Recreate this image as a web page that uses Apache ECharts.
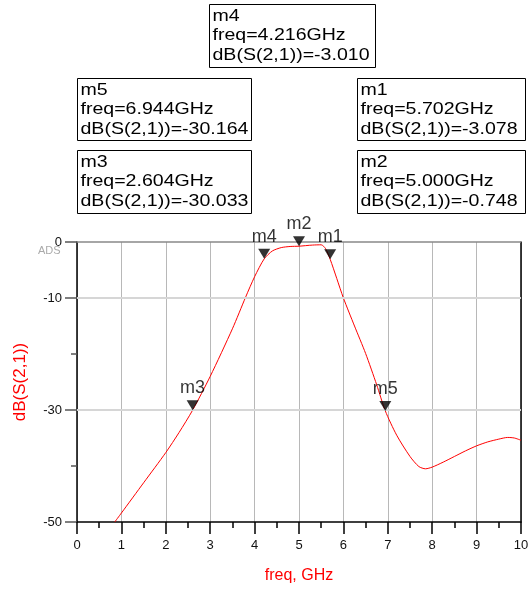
<!DOCTYPE html>
<html><head><meta charset="utf-8">
<script src="https://cdn.jsdelivr.net/npm/echarts@6/dist/echarts.min.js"></script>
<style>html,body{margin:0;padding:0;background:#fff}#c{width:528px;height:590px}</style>
</head><body><div id="c"></div>
<script>
// ---- data ----
const freqGHz = [0.85, 1.0, 1.5, 2.0, 2.3, 2.604, 3.0, 3.5, 3.8, 4.0, 4.216, 4.4, 4.6, 4.8, 5.0, 5.3, 5.5, 5.6, 5.702, 5.85, 6.0, 6.25, 6.5, 6.75, 6.944, 7.2, 7.5, 7.7, 7.85, 8.0, 8.25, 8.5, 8.75, 9.0, 9.25, 9.5, 9.7, 9.85, 10.0];
const dbS21 = [-50, -48.4, -43.0, -37.6, -34.0, -30.033, -24.0, -15.5, -9.8, -6.2, -3.010, -1.6, -1.0, -0.8, -0.748, -0.55, -0.5, -1.2, -3.078, -6.5, -10, -15, -19.9, -25.5, -30.164, -34.5, -38.3, -40.1, -40.5, -40.2, -39.3, -38.3, -37.3, -36.4, -35.7, -35.2, -34.9, -35.0, -35.4];
const markerNames = ['m1', 'm2', 'm3', 'm4', 'm5'];
const markerFreq = [5.702, 5.000, 2.604, 4.216, 6.944];
const markerDb = [-3.078, -0.748, -30.033, -3.010, -30.164];
const yLabelValues = [0, -10, -30, -50];
const yMinorValues = [-20, -40];
const yGridValues = [-10, -30];

// ---- layout of the marker readout boxes ----
const boxLayout = {
  m4: [209, 4, 166, 63],
  m5: [77, 78, 174, 62],
  m1: [357, 78, 168, 62],
  m3: [77, 150, 174, 63],
  m2: [357, 150, 168, 63]
};

const FONT = 'Liberation Sans, Arial, sans-serif';
const chart = echarts.init(document.getElementById('c'), null, {renderer: 'canvas'});

const graphics = [];
markerNames.forEach((n, i) => {
  const b = boxLayout[n];
  graphics.push({
    type: 'group', left: b[0], top: b[1],
    children: [
      {type: 'rect', shape: {x: 0, y: 0, width: b[2], height: b[3]},
       style: {fill: '#fff', stroke: '#000', lineWidth: 1}},
      {type: 'text', x: 3, y: 2, scaleX: 1.15,
       style: {text: n + '\nfreq=' + markerFreq[i].toFixed(3) + 'GHz\ndB(S(2,1))=' + markerDb[i].toFixed(3),
               fill: '#000', fontSize: 17, fontFamily: FONT, lineHeight: 19.5}}
    ]
  });
});
graphics.push({type: 'text', left: 38, top: 245,
  style: {text: 'ADS', fill: '#aaa', fontSize: 11, fontFamily: FONT}});

const option = {
  animation: false,
  backgroundColor: '#fff',
  grid: {left: 77, right: 7, top: 242, bottom: 68, containLabel: false, outerBoundsMode: 'none'},
  xAxis: {
    type: 'value', min: 0, max: 10, interval: 1, position: 'bottom',
    axisLine: {onZero: false, lineStyle: {color: '#000', width: 1.5}},
    axisTick: {length: 12, lineStyle: {color: '#000', width: 1.5}},
    minorTick: {show: true, splitNumber: 2, length: 6, lineStyle: {color: '#000', width: 1.5}},
    splitLine: {show: true, lineStyle: {color: '#b8b8b8', width: 1}},
    axisLabel: {color: '#111', fontSize: 13, fontFamily: FONT, margin: 17},
    name: 'freq, GHz', nameLocation: 'middle', nameGap: 46,
    nameTextStyle: {color: '#ff0000', fontSize: 16, fontFamily: FONT}
  },
  yAxis: [
    {
      type: 'value', min: -50, max: 0, interval: 10, position: 'left',
      axisLine: {show: true, onZero: false, lineStyle: {color: '#000', width: 1.5}},
      axisTick: {show: true, customValues: yLabelValues, length: 12, lineStyle: {color: '#555', width: 1.5}},
      axisLabel: {customValues: yLabelValues, color: '#111', fontSize: 13, fontFamily: FONT, margin: 15},
      splitLine: {show: false},
      name: 'dB(S(2,1))', nameLocation: 'middle', nameGap: 48,
      nameTextStyle: {color: '#ff0000', fontSize: 17, fontFamily: FONT}
    },
    {
      type: 'value', min: -50, max: 0, interval: 10, position: 'left',
      axisLine: {show: false, onZero: false},
      axisTick: {show: true, customValues: yMinorValues, length: 6, lineStyle: {color: '#555', width: 1.5}},
      axisLabel: {show: false}, splitLine: {show: false}
    },
    {
      type: 'value', min: -50, max: 0, interval: 10, position: 'right',
      axisLine: {show: true, onZero: false, lineStyle: {color: '#000', width: 1.5}},
      axisTick: {show: false}, axisLabel: {show: false}, splitLine: {show: false}
    }
  ],
  series: [
    {
      type: 'line', data: [], z: 1, silent: true,
      markLine: {
        silent: true, symbol: 'none', label: {show: false}, animation: false,
        data: yGridValues.map(v => ({yAxis: v, lineStyle: {color: '#d6d6d6', width: 2, type: 'solid'}}))
          .concat([{yAxis: 0, lineStyle: {color: '#888', width: 1.5, type: 'solid'}}])
      }
    },
    {
      type: 'line', z: 3, symbol: 'none', smooth: 0.25,
      data: freqGHz.map((f, i) => [f, dbS21[i]]),
      lineStyle: {color: '#ff0000', width: 1}
    },
    {
      type: 'scatter', z: 5,
      symbol: 'triangle', symbolSize: [12, 10], symbolRotate: 180, symbolOffset: [0, -5],
      itemStyle: {color: '#000'},
      label: {show: true, position: 'top', distance: 3, formatter: '{b}', color: '#000', fontSize: 18, fontFamily: FONT},
      data: markerNames.map((n, i) => ({name: n, value: [markerFreq[i], markerDb[i]]}))
    }
  ],
  graphic: graphics
};
chart.setOption(option);
</script>
</body></html>
